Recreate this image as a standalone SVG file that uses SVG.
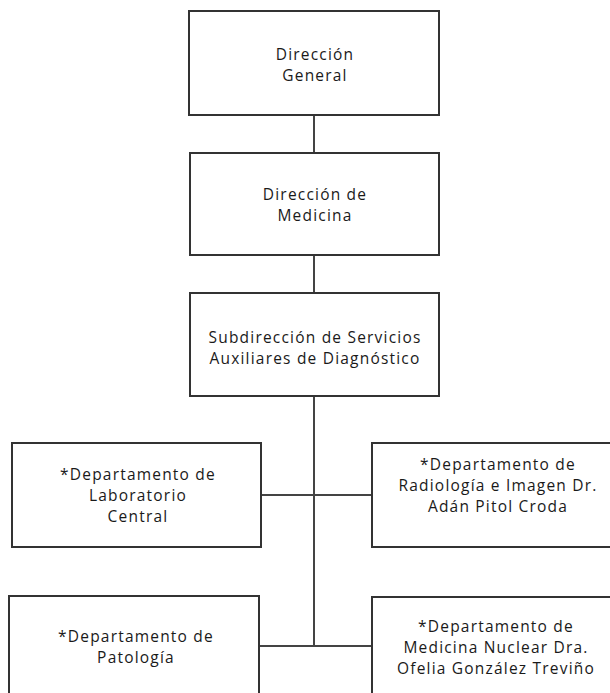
<svg xmlns="http://www.w3.org/2000/svg" width="610" height="693" viewBox="0 0 610 693">
<style>
.box{fill:#ffffff;stroke:#333333;stroke-width:2}
.ln{fill:none;stroke:#444444;stroke-width:2}
text{font-family:"Open Sans","DejaVu Sans",sans-serif;font-size:15.5px;letter-spacing:1.2px;fill:#1a1a1a;text-anchor:middle}
</style>
<rect width="610" height="693" fill="#ffffff"/>
<g id="connectors">
<line class="ln" x1="314" y1="115" x2="314" y2="153"/>
<line class="ln" x1="314" y1="255" x2="314" y2="293"/>
<line class="ln" x1="314" y1="396" x2="314" y2="646"/>
<line class="ln" x1="261" y1="495" x2="372" y2="495"/>
<line class="ln" x1="259" y1="646" x2="372" y2="646"/>
</g>
<g id="n1">
<rect class="box" x="189" y="11" width="250" height="104"/>
<text x="315" y="60">Dirección</text>
<text x="315" y="81">General</text>
</g>
<g id="n2">
<rect class="box" x="190" y="153" width="249" height="102"/>
<text x="315" y="200">Dirección de</text>
<text x="315" y="221">Medicina</text>
</g>
<g id="n3">
<rect class="box" x="190" y="293" width="249" height="103"/>
<text x="315" y="343">Subdirección de Servicios</text>
<text x="315" y="364">Auxiliares de Diagnóstico</text>
</g>
<g id="n4">
<rect class="box" x="12" y="443" width="249" height="104"/>
<text x="138" y="480">*Departamento de</text>
<text x="138" y="501">Laboratorio</text>
<text x="138" y="522">Central</text>
</g>
<g id="n5">
<rect class="box" x="372" y="443" width="252" height="104"/>
<text x="498" y="470">*Departamento de</text>
<text x="498" y="491">Radiología e Imagen Dr.</text>
<text x="498" y="512">Adán Pitol Croda</text>
</g>
<g id="n6">
<rect class="box" x="9" y="596" width="250" height="104"/>
<text x="136" y="642">*Departamento de</text>
<text x="136" y="663">Patología</text>
</g>
<g id="n7">
<rect class="box" x="372" y="597" width="252" height="104"/>
<text x="496" y="632">*Departamento de</text>
<text x="496" y="653">Medicina Nuclear Dra.</text>
<text x="496" y="674">Ofelia González Treviño</text>
</g>
</svg>
